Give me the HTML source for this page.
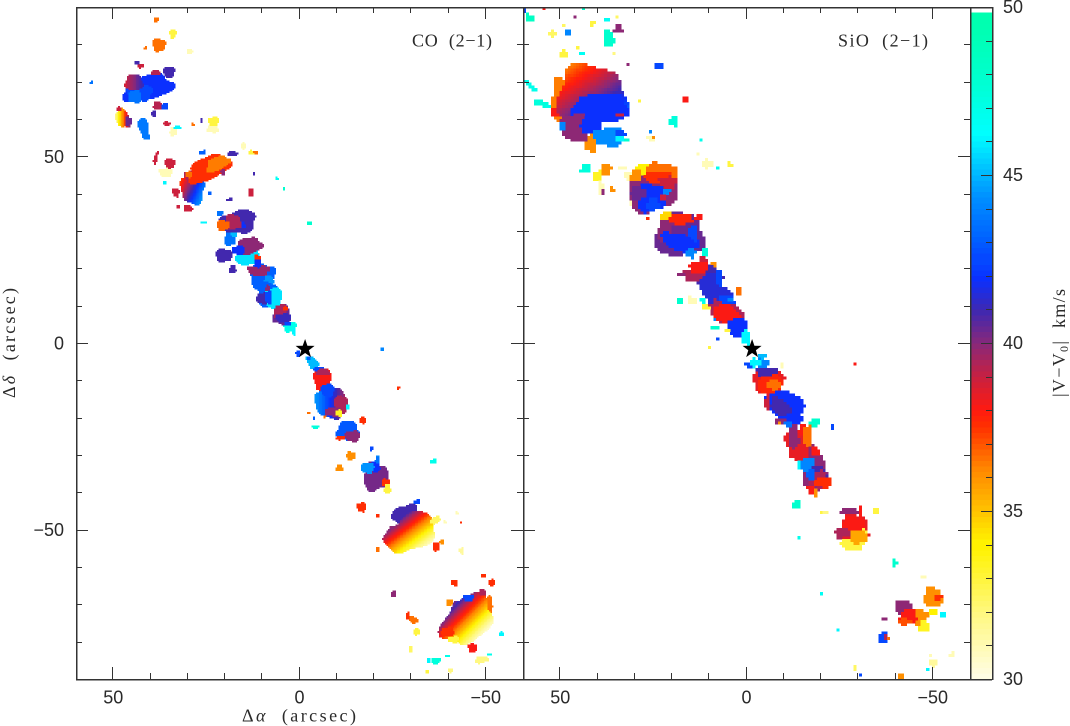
<!DOCTYPE html>
<html lang="en">
<head>
<meta charset="utf-8">
<title>CO and SiO velocity maps</title>
<style>
html,body{margin:0;padding:0;background:#fff;width:1070px;height:726px;overflow:hidden}
svg{display:block}
text{fill:#2a2a2a}
.num{font-family:"Liberation Sans",sans-serif;font-size:18px}
.lab{font-family:"Liberation Serif",serif;font-size:18px;white-space:pre}
</style>
</head>
<body>
<svg id="chart" xmlns="http://www.w3.org/2000/svg" width="1070" height="726" viewBox="0 0 1070 726" shape-rendering="crispEdges">
  <defs>
    <clipPath id="clip-co"><rect x="76" y="7" width="447" height="672"/></clipPath>
    <clipPath id="clip-sio"><rect x="523" y="7" width="447" height="672"/></clipPath>
  </defs>
  <g id="co-map" clip-path="url(#clip-co)"></g>
  <g id="sio-map" clip-path="url(#clip-sio)"></g>
  <g id="colorbar"></g>
  <g id="axes"></g>
  <g id="stars"></g>
  <g id="labels" shape-rendering="auto"></g>
  <text class="lab" x="242" y="721.5" textLength="114" lengthAdjust="spacing" shape-rendering="auto">Δ<tspan font-style="italic">α</tspan>  (arcsec)</text>
  <text class="lab" transform="translate(15,398) rotate(-90)" textLength="110" lengthAdjust="spacing" shape-rendering="auto">Δ<tspan font-style="italic">δ</tspan>  (arcsec)</text>
  <text class="lab" transform="translate(1065,397) rotate(-90)" textLength="108" lengthAdjust="spacing" shape-rendering="auto">|V−V<tspan font-size="12" dy="3">0</tspan><tspan dy="-3">|  km/s</tspan></text>
  <text class="lab" x="412" y="46.5" textLength="80" lengthAdjust="spacing" shape-rendering="auto">CO  (2−1)</text>
  <text class="lab" x="838" y="46.5" textLength="90" lengthAdjust="spacing" shape-rendering="auto">SiO  (2−1)</text>
</svg>
<script>
// Clump rows: [ra", dec", radiusX", radiusY", tilt deg, velocity km/s, dV/dx, dV/dy]
const coNorth = [
[37.8,79.9,1.6,1.6,0,36.5],[38.6,86.6,.6,.6,0,36.5],[41.3,79.1,.4,.4,0,36.5],[34,82.9,.8,1.1,0,33],[29.5,78.1,.8,.5,0,31],
[55.8,69.8,.4,.3,0,43.5],[40.8,68.4,6.2,3,-14,42],[42.9,67.1,3.2,1.9,0,42.5],[44.2,66,1.6,1.6,0,43.5],[44.5,69.8,2.2,1.9,0,40,.5,0],[38.6,72.5,1.1,.6,0,39.3],
[35.1,72.7,1.4,1.3,0,41],[42.6,74.3,.8,.5,0,39],[43.7,75.1,.5,.3,0,41],[38.1,63.6,1.1,1.1,0,39.2],[36.2,63.4,.8,.8,0,42.5],[39.1,61.5,.6,.8,0,41],
[47.5,60.2,2.4,1.6,65,36,2.2,0],[46.1,59.4,.8,1.1,0,40.5],[48.5,62.8,.5,.5,0,39],[41.8,57.5,1.1,2.8,-15,43.7],[35.7,58.8,.8,.5,0,39],
[34,56.7,.8,1.1,0,31],[32.7,57.8,.8,.5,0,46],[23.3,57.5,1.3,1.1,0,31],[23.1,59.4,1.3,1.1,0,33],[26.3,59.6,.3,.5,0,41],[28.7,58.6,.4,.3,0,36.5],
[15,52.9,.6,.8,0,31],[12.9,51.1,.8,.5,0,33],[11.8,51.1,.5,.4,0,36.5],[18,50.8,1.3,.5,0,41],[26,51.1,.8,.5,0,43],[38.6,49.7,.4,1.6,15,39],
[34.9,48.1,1.3,1.3,0,39],[35.9,45.7,1.6,1.1,0,31],[36.2,43,.5,.5,0,46],
[28.7,41.4,2.9,3.7,0,41,.9,.4],[28.7,44.7,2.1,1.3,0,39.5],[24.4,46.8,5.4,2.8,-25,37.5],[22,48.1,3,1.6,-25,36.3],[29.8,45.2,.8,.8,0,36.5],[20.6,45.7,.5,.8,0,40],
[33.2,40.4,.8,1.1,0,39],[30,36.1,1.1,.8,0,39],[32.7,36.6,.5,.3,0,39],[24.1,40.1,.5,.5,0,43],[18.8,38.5,.8,.3,0,41],[13.1,40.4,.5,1.1,0,39],
[12.3,45.5,.3,.3,0,41],[6.2,44.1,.4,.4,0,46.5],[4.3,41.4,.2,.3,0,48]
];
const coCentre = [
[25.7,32.4,.8,.3,0,46],[21.4,34.8,.7,.7,0,43.5],[-2.7,32.1,.5,.5,0,48],[18.8,28.1,1.3,1.9,0,43.5],[17.7,29.4,.8,.8,0,45],
[16.5,32.5,4.4,2.8,-10,41],[15.3,33.4,1.9,1.9,0,41],[15.8,31.6,1.3,.8,0,42],[18,32.4,2.1,1.9,0,39.5],[20.6,31.6,1.6,1.3,0,36.8],
[13.9,23.5,3,2.5,0,45.7],[13.7,26,3.2,2,-15,40],[16.4,24.9,1.6,1.1,0,42],[20.4,23.5,2.1,1.6,0,41],[18,19.8,.8,1.1,0,41],
[10,18,3,3.2,0,43],[9.9,16.8,2.7,1.9,0,43],[11,19.5,2.7,1.3,0,39.8],[11.3,21.4,.8,1.1,0,42],[11.3,23,.8,.5,0,37.5],[8.3,16.8,1.3,1.1,0,44.3],
[8.3,13,2.8,3,0,43],[7,12,2.1,2.7,0,45.7],[9.9,12,1.6,1.3,0,41],[8.6,14.7,.5,.8,0,40],[8.3,12.3,.8,1.6,0,42.5],
[2.7,4.5,1.6,1.3,0,47],[1.6,2.9,.5,.8,0,46],[4.8,7.5,2.2,2.4,0,40.5],[5.1,8.3,1.6,1.9,0,39.5],[3.8,9.4,.5,.5,0,37.5],[4.3,6.7,1.9,1.1,0,41.2],[3.2,5.3,.8,.5,0,42.5],
[.5,-2.9,.5,.8,0,42.5],[-3.5,-5.3,1.1,1.9,-35,45],[-2.4,-4,.5,.5,0,43],[-5.1,-7.2,1.3,.8,0,42.5],[-6.2,-9.9,2.1,2.9,0,38],[-6.2,-7.8,1.6,.8,0,39.5],
[-7,-19.3,.8,.5,0,36.5],[-8.3,-16,3.8,3.7,0,42,-.6,0],[-7.5,-12.6,1.6,1.6,0,42.5],[-11,-16.6,1.6,2.4,0,39.5],[-9.1,-18.4,2.1,1.1,0,40],[-10.5,-18.7,.8,.8,0,33.5],
[-12.9,-17.1,.5,.5,0,46],[-4.3,-22.5,.8,.5,0,47.5],[-2.4,-18.7,.5,.3,0,36.5],[-3.8,-20.1,.3,.5,0,43],
[-12.9,-23.5,2.7,2.4,0,42.8],[-14.2,-24.9,1.9,1.3,0,40],[-11,-25.4,1.1,.5,0,37.5],[-16.9,-20.6,.8,.8,0,37.5],[-13.7,-30.2,1.1,1.1,0,36],
[-20.9,-30.7,.5,.5,0,44],[-19.3,-28.3,.3,.5,0,42.5],[-22.3,-1.6,.4,.4,0,44],[-26.5,-12,.3,.3,0,37.5]
];
const coSouth = [
[-10.7,-33.4,.8,.8,0,36],[-20.4,-35.8,3.1,3.4,0,40.3],[-20.1,-33.2,1.3,1.3,0,42],[-18.2,-33.4,1.6,1.3,0,44.3],[-20.9,-31.3,.5,.8,0,43.5],
[-23.1,-37.2,1.1,.8,0,37.5],[-23.6,-39,.8,1.1,0,33],[-35.9,-31.6,.8,.5,0,47],[-16.6,-43.9,1.1,1.1,0,37.5],[-20.9,-46.3,.5,.4,0,37.5],
[-28.2,-46,3.2,2.4,-25,41],[-31.6,-42.5,.8,.5,0,42.5],[-25.7,-50,1.9,1.1,0,40],[-29.8,-50.8,6.6,4.2,-30,36.2,-.6,-.8],[-36.5,-47.3,1.3,.8,-35,32.5],
[-36.7,-54.5,.8,1.1,0,37.5],[-38.1,-53.2,.5,.5,0,36],[-43.4,-55.6,.5,.8,0,31.5],[-20.9,-55.3,.5,.5,0,36.5],[-42.1,-45.5,.4,.4,0,31],[-43.2,-48.1,.3,.3,0,37.5],[-38.9,-47.9,.4,.4,0,31],
[-43.2,-70.6,2.1,1.6,0,40.5],[-50.4,-70.1,1.3,2.1,0,36.5],[-45,-74.1,7,5,-45,36.2,-.7,-.7],[-45.3,-68.2,1.3,.8,0,42.5],[-49.1,-66.8,.8,.8,0,39.5],
[-39.7,-77.3,1.6,1.1,0,37.5],[-41.3,-79.4,1.3,.8,0,33],[-40.2,-69.5,.8,.8,0,36],[-38.3,-75.4,.5,.3,0,40],[-41.6,-64.2,.8,.8,0,37.5],[-49.3,-62.3,.5,.5,0,37.5],[-51.5,-64.2,.8,.8,0,37.5],
[-30.6,-74.1,1.1,.8,30,36.5],[-29,-73,.5,.8,0,37.5],[-31.4,-77.3,.8,.8,0,33],[-29.8,-82.1,.5,.8,0,32.5],[-25.2,-67.1,.5,.8,0,40],
[-46.4,-81.6,1.1,1.1,0,38],[-48.8,-84.8,1.6,.8,-10,32],[-54.2,-77.8,.5,.5,0,46],[-50.9,-83.4,.5,.3,0,47],[-36.5,-85,1.1,.8,0,47.5],[-34.6,-85,.5,.5,0,46],
[-39.7,-83.7,.5,.3,0,47],[-34.3,-88,.4,.4,0,33],[-40.5,-87.7,.5,.5,0,32]
];
const sioNorth = [
[58.4,87.2,1.3,.8,30,48.5],[59.5,89.3,.3,.5,0,42.5],[54.4,89.8,.5,.3,0,38],[44,89.8,.5,.3,0,48],[52.3,82.9,1.1,.8,0,32.5],[49.3,84.8,.4,.4,0,32.5],
[47.7,83.4,.8,.8,0,44],[45.8,87.7,.4,.4,0,40],[41.3,85.6,.5,.5,0,33],[37.5,86.9,.5,.5,0,46.5],[35.1,87.7,.3,.4,0,32.5],[37,81.6,1.3,2.1,-20,48],[34.3,84,1.1,1.1,0,40],
[49.1,77.5,.8,1.1,0,33],[45,78.9,.4,.4,0,33],[44.2,77.8,.3,.3,0,46.5],[35.9,77.8,.4,.4,0,32],[57.9,68.7,2.1,.6,40,47],[55.2,64.2,1.6,.8,15,47.5],[53.1,63.6,.8,.3,0,47],[23.6,74.1,1.1,.8,0,42.5],
[49.9,65,2.4,5.5,0,36.3],[41.8,53.7,1.9,2.1,0,36],[50.9,61.8,1.6,1.1,0,38],[41.8,66,8.6,7.8,0,40,.2,.3],[39.1,63,7,3.5,0,42],[45.8,57.8,4,3.5,0,40],[41.8,58.3,2.7,2.1,0,42],
[37,55.3,3.8,2.4,0,44.2],[33.8,56.1,1.3,.8,0,42.5],[33.8,54.8,1.3,.8,0,46],[32.4,54.3,.8,.5,0,48],[49.6,58,.8,1.1,0,44],[34.3,61,1.1,.5,0,39],
[31.6,74.3,.3,.3,0,40],[16.1,65,.8,.8,0,38],[29,64.7,.3,.5,0,33],[19.6,59.4,1.1,1.1,0,47.5],[25.5,56.4,.4,.4,0,44],[25.5,54.8,1.3,.5,0,31],[24.9,55.3,.5,.5,0,36],
[12.3,54.5,.5,.5,0,47],[13.1,50.8,.4,.4,0,31],[10.5,48.1,1.3,1.1,0,31],[7.8,47.1,.5,.3,0,47],[4.6,47.9,.8,.5,0,33],
[43.2,46.8,1.3,1.3,0,47.5],[37.8,46.5,1.3,1.6,0,36],[39.9,44.7,1.1,1.3,0,33.5],[39.1,41.4,.8,1.6,0,31],[38.6,40.4,.3,.8,0,40],[35.9,41.2,.8,.5,0,36],[33.2,46.8,1.1,.5,0,31],[31.9,44.9,.8,1.1,0,31],
[31.1,38.2,.5,1.3,0,31],[25.5,41,6,5.5,0,40],[27.9,46.3,1.9,1.6,0,34],[23.1,45.7,4,2.4,0,36.5],[29.8,44.9,1.3,1.6,0,36],[23.9,44.4,3.5,1.3,0,37.5],[21.2,43,2.1,1.6,0,39],
[25.7,39,3.8,3.5,0,42],[29,40.1,2.1,1.6,0,40.5],[25.2,37.2,1.6,1.6,0,42.5],[21.4,40.4,.8,.8,0,44],[22.3,38.8,.8,.8,0,39],[27.6,34.5,.3,.4,0,36.5],[26.5,33.2,.4,.4,0,37.5]
];
const sioCentre = [
[18,29,6,5.6,0,40.5],[10.5,17.5,4.2,3.2,45,41],[8,13,5,2.8,50,41.5],[5,8,5,3,35,39.5],[-6,-10.5,3.8,3.3,0,38.5],[-14,-27,3.2,4,0,38.5],[-18.5,-35,3,4.5,0,40],
[20.9,33.4,2.1,1.6,0,34.5],[17.7,32.9,3.2,1.6,0,37.8],[12.9,33.7,.8,.8,0,38],[21.2,29.7,2.7,2.7,0,40],[16.4,29.7,3.5,2.1,0,40.5],[17.7,27,4.8,2.1,15,42],[14.2,29.4,1.1,2.1,0,42.5],[15,24.1,1.3,1.1,0,44],[11.3,24.6,.8,1.1,0,47.5],
[9.1,21.1,.8,.5,0,36],[11.8,22.2,1.1,.8,0,39],[9.7,16.8,2.7,2.1,0,41.5],[7.2,17.4,.8,2.1,0,42.5],[14.2,18.2,2.4,1.6,0,39.5],[17.2,18.2,1.1,.5,0,40],[12.9,20.3,2.4,1.6,0,38],
[8.8,13.4,3.8,2.1,45,41.5],[5.6,11.5,2.1,1.3,0,42.5],[4.3,11.5,.5,.5,0,44],[2.4,13.9,.8,1.1,0,36.5],[11,9.6,1.1,.8,0,33],[8.6,7,.5,1.3,0,44],[6.2,9.4,3.5,1.1,30,39.5],[5.1,7.5,4,2.1,30,38],[2.4,4.3,2.4,2.4,0,42],[5.1,3.5,.4,.8,0,33],
[.3,1.6,1.1,1.9,-10,46],[8.3,4,1.1,.5,0,48],[7.5,1.1,.4,.4,0,42.5],[10.2,-.8,.3,.2,0,33],[18,11.2,.5,.8,0,48],[14.7,11.5,1.1,.8,0,31],[11.8,11.2,.5,.8,0,47],
[-1.1,-5.9,1.3,.5,0,42.5],[-4.3,-5.3,1.6,1.3,0,44],[-2.4,-5.3,1.3,1.1,0,46],[-4.3,-3.7,.8,.7,0,45],[-5.6,-7.8,2.7,1.1,0,41],[-6.4,-11.2,3.2,2.4,0,37.8],[-7.2,-11.2,1.9,1.3,0,36.5],
[-10.5,-17.1,5.2,3.6,35,42],[-5.6,-16,.8,1.6,0,39],[-9.1,-17.1,2.7,1.9,40,41],[-9.1,-21.1,1.3,.8,0,40],[-8.6,-21.7,.5,.3,0,36],
[-12.6,-25.1,1.3,3.2,0,40],[-15,-23.3,1.1,1.3,0,38],[-16.4,-25.1,1.3,2.7,0,36.5],[-18.2,-21.4,1.1,1.1,0,48],[-11,-21.7,1.1,.5,0,43.5],[-22.8,-22.5,.3,.5,0,42.5],
[-17.7,-28.6,.8,1.3,0,40],[-18.5,-29.1,1.3,1.1,0,38],[-16.4,-32.6,1.9,1.9,0,44],[-13.9,-32.6,.5,1.1,0,46],[-19.3,-35,2.1,1.9,0,41],[-19.3,-36.6,2.4,2.1,0,39.5],[-20.6,-37.4,2.1,1.3,0,37.5],
[-17.2,-39.3,.8,1.3,0,38],[-18.5,-40.1,.5,1.1,0,36],[-17.2,-35.3,1.3,1.3,0,43],[-29,-5.6,.4,.4,0,38],[-9.7,-5.9,.5,.5,0,31]
];
const sioSouth = [
[-13.4,-43.3,1.1,1.1,0,48],[-13.9,-52.1,.3,.5,0,47],[-20.4,-45.2,.5,.5,0,33],[-21.2,-45.5,.4,.4,0,32],
[-29,-50,3.5,4,0,38.5],[-27.3,-45.2,2.4,.8,0,40],[-30.6,-45.5,.5,1.9,0,38],[-28.7,-48.7,2.7,2.1,0,38],[-25.7,-50.8,1.9,1.3,0,39.5],[-28.4,-54,2.7,1.6,0,33],[-31.4,-50.8,.8,1.1,0,33],[-30,-51.9,2.1,1.6,0,35.5],[-34.9,-44.9,.7,.7,0,33],
[-39.7,-59.1,.7,1.1,0,48],[-20.1,-67.4,.3,.2,0,46.5],[-47.5,-62.3,.5,.3,0,31],
[-42.1,-70.9,2.1,1.9,0,40],[-50.1,-68.2,2.4,2.4,0,36],[-51.5,-68.2,.8,.8,0,37.5],[-46.6,-73.3,1.9,1.9,0,36],[-43.4,-73.3,2.1,1.9,0,38],[-42.6,-74.6,1.6,.8,0,37],[-47.5,-75.9,1.3,1.6,0,33.5],[-50.1,-72.2,1.1,.8,0,34],
[-52.8,-73,.8,.8,0,46],[-24.4,-76.7,.5,.5,0,46],[-36.7,-73.8,.8,.5,0,40],[-36.7,-78.9,1.1,1.6,0,42.5],[-37.5,-78.9,.5,.8,0,39.5],[-38.3,-79.4,.4,.4,0,36.5],
[-50.1,-85.6,1.1,1.1,0,31.5],[-49.3,-83.4,.5,.5,0,31],[-55.2,-83.4,.5,.8,0,31],[-48.5,-87.4,.4,.8,0,46],[-29.2,-87.2,.5,.8,0,32.5],[-30.8,-89,.5,.5,0,42.5],[-41.3,-89,.8,.8,0,36]
];
const starRa = -1.5;
const starDec = -1.6;
const xTickLabels = [50, 0, -50];
const xMinorTicks = [50, 40, 30, 20, 10, 0, -10, -20, -30, -40, -50];
const yTickLabels = [50, 0, -50];
const yMinorTicks = [80, 70, 60, 50, 40, 30, 20, 10, 0, -10, -20, -30, -40, -50, -60, -70, -80];
const colorbarLabels = [50, 45, 40, 35, 30];
const colorbarMinorTicks = [49, 48, 47, 46, 45, 44, 43, 42, 41, 40, 39, 38, 37, 36, 35, 34, 33, 32, 31];
const colorStopVelocity = [30, 32, 34, 35, 36.2, 37.5, 38, 39, 40, 41, 42, 43, 44.3, 45, 46.2, 48, 49.5];
const colorStopHex = ['#fffde8','#fff880','#fff200','#ffc000','#ff8800','#ff3000','#ff1a10','#c82040','#8a2878','#4028b0','#0a30ff','#0060ff','#0090ff','#00b8ff','#00ffff','#00ffcc','#00ffb0'];

const NS = 'http://www.w3.org/2000/svg';
const xScale = 447 / 120;
const yScale = 672 / 180;
const xCoCentre = 299.5;
const xSioCentre = 746.5;
const yCentre = 343;
const yOf = d => yCentre - d * yScale;
const xOfCo = r => xCoCentre - r * xScale;
const xOfSio = r => xSioCentre - r * xScale;
const vOfY = y => 30 + (679 - y) / 33.6;
const yOfV = v => 679 - (v - 30) * 33.6;

function hexRgb(h) { return [1, 3, 5].map(i => parseInt(h.substr(i, 2), 16)); }
function colorFor(v) {
  const q = Math.round(v / 0.17) * 0.17;
  const n = colorStopVelocity.length;
  if (q <= colorStopVelocity[0]) return colorStopHex[0];
  if (q >= colorStopVelocity[n - 1]) return colorStopHex[n - 1];
  let i = 0;
  while (colorStopVelocity[i + 1] < q) i++;
  const t = (q - colorStopVelocity[i]) / (colorStopVelocity[i + 1] - colorStopVelocity[i]);
  const a = hexRgb(colorStopHex[i]), b = hexRgb(colorStopHex[i + 1]);
  return 'rgb(' + a.map((c, k) => Math.round(c + (b[k] - c) * t)).join(',') + ')';
}
function add(parent, tag, attrs) {
  const el = document.createElementNS(NS, tag);
  for (const k in attrs) el.setAttribute(k, attrs[k]);
  parent.appendChild(el);
  return el;
}
function drawClumps(parentId, rows, xOf, cell, x0) {
  const parent = document.getElementById(parentId);
  rows.forEach(row => {
    const ra = row[0], dec = row[1], rx = row[2], ry = row[3], tilt = row[4] || 0, vel = row[5], gx = row[6] || 0, gy = row[7] || 0;
    const g = add(parent, 'g', {});
    
    
    const cx = xOf(ra), cy = yOf(dec);
    const c = Math.cos(tilt * Math.PI / 180), s = Math.sin(tilt * Math.PI / 180);
    const big = Math.max(rx, ry) * xScale * 1.3 + cell;
    const iStart = Math.floor((cx - big - x0) / cell), iEnd = Math.ceil((cx + big - x0) / cell);
    const jStart = Math.floor((cy - big - 7) / cell), jEnd = Math.ceil((cy + big - 7) / cell);
    const rxPx = Math.max(rx * xScale * 1.05, cell * 0.55), ryPx = Math.max(ry * yScale * 1.05, cell * 0.55);
    const rough = Math.max(rx, ry) > 0.7 ? 0.1 : 0;
    const phase = ra * 7 + dec * 13;
    for (let j = jStart; j <= jEnd; j++) {
      for (let i = iStart; i <= iEnd; i++) {
        const px = x0 + (i + 0.5) * cell, py = 7 + (j + 0.5) * cell;
        const dx = px - cx, dy = py - cy;
        const u = (dx * c + dy * s) / rxPx, w = (-dx * s + dy * c) / ryPx;
        const angle = Math.atan2(w, u);
        const edge = 1 + rough * Math.sin(3 * angle + phase) + rough * 0.7 * Math.sin(5 * angle - phase);
        if (Math.pow(Math.abs(u / edge), 2.6) + Math.pow(Math.abs(w / edge), 2.6) > 1) continue;
        const v = vel + gx * dx / xScale + gy * dy / yScale;
        const r = add(g, 'rect', { x: (px - cell / 2).toFixed(2), y: (py - cell / 2).toFixed(2), width: (cell + 0.3).toFixed(2), height: (cell + 0.3).toFixed(2), fill: colorFor(v) });
        
        
      }
    }
  });
}
drawClumps('co-map', coNorth.concat(coCentre, coSouth), xOfCo, 1.5, 76);
drawClumps('sio-map', sioNorth.concat(sioCentre, sioSouth), xOfSio, 2.8, 523);

// Colour bar
const cbar = document.getElementById('colorbar');
for (let y = 679; y > 13; y -= 5.6) {
  const seg = add(cbar, 'rect', { x: 971, y: (y - 5.6).toFixed(1), width: 21, height: 5.9, fill: colorFor(vOfY(y - 2.8)) });
  
  
}

// Axes
const axes = document.getElementById('axes');
function line(x1, y1, x2, y2, name, w) {
  const l = add(axes, 'line', { x1: x1, y1: y1, x2: x2, y2: y2, stroke: '#333', 'stroke-width': w || 1 });
  
  
}
[[76, 523, xCoCentre], [523, 970, xSioCentre]].forEach(p => {
  const xc = p[2];
  xMinorTicks.forEach(t => {
    const x = Math.round(xc - t * xScale) - 0.5;
    const len = xTickLabels.includes(t) ? 12 : 6;
    line(x, 679, x, 679 - len, 'x-tick');
    line(x, 7, x, 7 + len, 'x-tick-top');
  });
});
yMinorTicks.forEach(t => {
  const y = Math.round(yOf(t)) + 0.5;
  const len = yTickLabels.includes(t) ? 12 : 6;
  line(76, y, 76 + len, y, 'y-tick');
  line(523, y, 523 - len, y, 'y-tick-mid');
  line(523, y, 523 + len, y, 'y-tick-mid');
  line(970, y, 970 - len, y, 'y-tick-right');
});
colorbarLabels.forEach(v => line(992, Math.round(yOfV(v)) + 0.5, 981, Math.round(yOfV(v)) + 0.5, 'colorbar-major-tick'));
colorbarMinorTicks.filter(v => !colorbarLabels.includes(v)).forEach(v => line(992, Math.round(yOfV(v)) + 0.5, 986, Math.round(yOfV(v)) + 0.5, 'colorbar-minor-tick'));
line(76, 7.5, 992, 7.5, 'top-axis', 1.5);
line(76, 679.5, 992, 679.5, 'bottom-axis', 1.5);
line(76.5, 7, 76.5, 680, 'left-axis', 1.5);
line(523.5, 7, 523.5, 680, 'panel-divider', 1.5);
line(970.5, 7, 970.5, 680, 'right-axis', 1.5);
line(992.5, 7, 992.5, 680, 'colorbar-edge', 1.5);

// Stars
const stars = document.getElementById('stars');
[xOfCo(starRa), xOfSio(starRa)].forEach(cx => {
  const cy = yOf(starDec), pts = [];
  for (let i = 0; i < 10; i++) {
    const r = i % 2 ? 4 : 10, a = -Math.PI / 2 + i * Math.PI / 5;
    pts.push((cx + r * Math.cos(a)).toFixed(1) + ',' + (cy + r * Math.sin(a)).toFixed(1));
  }
  const st = add(stars, 'polygon', { points: pts.join(' '), fill: '#000', 'shape-rendering': 'auto' });
  
  
});

// Tick labels
const labels = document.getElementById('labels');
function label(x, y, value, anchor, name) {
  const t = add(labels, 'text', { x: x, y: y, class: 'num', 'text-anchor': anchor });
  t.textContent = String(value).replace('-', '−');
  
  
}
xTickLabels.forEach(v => {
  label(xOfCo(v), 703.5, v, 'middle', 'x-tick-label');
  label(xOfSio(v), 703.5, v, 'middle', 'x-tick-label');
});
yTickLabels.forEach(v => label(64, yOf(v) + 6.5, v, 'end', 'y-tick-label'));
colorbarLabels.forEach(v => label(1003, yOfV(v) + 6, v, 'start', 'colorbar-label'));
</script>
</body>
</html>
